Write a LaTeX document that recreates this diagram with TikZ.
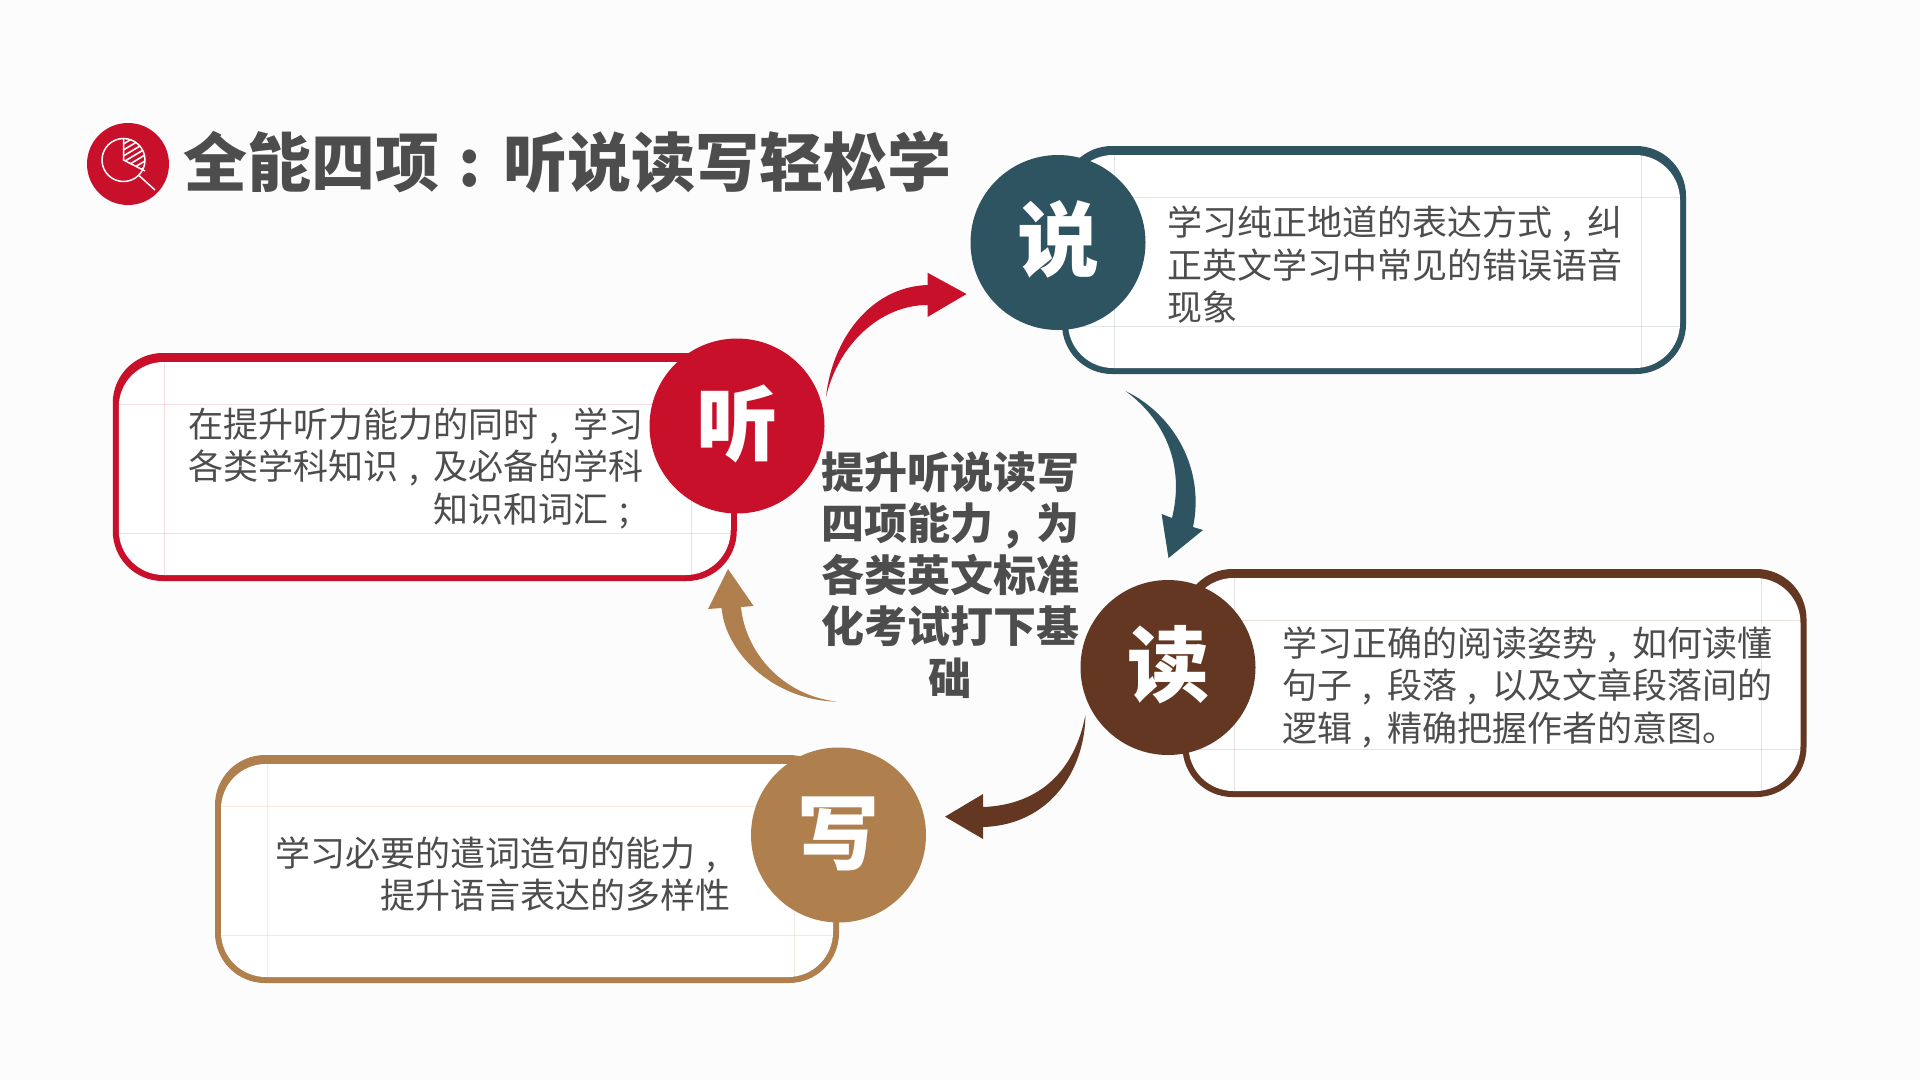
\documentclass[tikz,border=0pt]{standalone}
\usepackage{fontspec}
\setmainfont{Noto Sans CJK SC}
\usetikzlibrary{calc}
\definecolor{pagecol}{HTML}{FCFCFC}
\definecolor{inkcol}{HTML}{4D4D4D}
\definecolor{redcol}{HTML}{C8102B}
\definecolor{tealcol}{HTML}{2F5461}
\definecolor{browncol}{HTML}{633722}
\definecolor{tancol}{HTML}{AF7F4D}
% full width marks sit in the middle of their cell
\newcommand{\midp}[1]{\makebox[1em][l]{\hspace{.3em}#1}}
\tikzset{
	outerbox/.style={rectangle, rounded corners=50pt, minimum width=624pt, minimum height=228pt, inner sep=0pt, outer sep=0pt},
	innerbox/.style={rectangle, rounded corners=45pt, fill=white, minimum width=612pt, minimum height=213pt, inner sep=0pt, outer sep=0pt},
	seam/.style={line width=0.8pt, draw opacity=0.14},
	badge/.style={circle, minimum size=175pt, inner sep=0pt, outer sep=0pt, text=white, text height=69.5pt, text depth=13pt, font=\fontsize{82}{82}\selectfont\bfseries},
	bodytext/.style={inner sep=0pt, text=inkcol, font=\fontsize{35}{42.5}\selectfont},
}
\begin{document}
\begin{tikzpicture}[x=1pt, y=-1pt]
	\useasboundingbox (0,0) rectangle (1920,1080);
	\fill[pagecol] (0,0) rectangle (1920,1080);

	% title and icon
	\node[circle, fill=redcol, minimum size=82pt, inner sep=0pt] (iconbadge) at (128,164) {};
	\node[circle, draw=white, line width=1.5pt, minimum size=43pt, inner sep=0pt] (lens) at (123.5,160) {};
	\coordinate (handleend) at (155,190);
	\draw[white, line width=1.5pt] (lens.-45) -- (handleend);
	\begin{scope}
		\clip (lens.center) circle [radius=21.5];
		\clip (lens.center) -- (123.5,130) -- (160,130) -- (159.5,178) -- cycle;
		\foreach \k in {0,...,9}
			\draw[white, line width=1.6pt] (120,{146+6*\k}) -- (160,{122+6*\k});
	\end{scope}
	\draw[white, line width=1.5pt] (lens.north) -- (lens.center) -- ($(lens.center)!1!(145,171)$);
	\node[anchor=west, inner sep=0pt, text=inkcol, font=\fontsize{64}{64}\selectfont\bfseries] (title) at (183,162) {全能四项\midp{:}听说读写轻松学};

	% boxes
	\node[outerbox, fill=redcol]   (tingbox) at (424.75,467) {};
	\node[outerbox, fill=tealcol]  (shuobox) at (1374,260) {};
	\node[outerbox, fill=browncol] (dubox)   at (1494.5,683) {};
	\node[outerbox, fill=tancol]   (xiebox)  at (527,869) {};

	\foreach \name/\col in {ting/redcol, shuo/tealcol, du/browncol, xie/tancol} {
		\node[innerbox] (\name inner) at ([yshift=-1.5pt]\name box.center) {};
		\draw[seam, \col] ([xshift=46pt]\name inner.north west) -- ([xshift=46pt]\name inner.south west);
		\draw[seam, \col] ([xshift=-39pt]\name inner.north east) -- ([xshift=-39pt]\name inner.south east);
		\draw[seam, \col] ([yshift=-42pt]\name inner.north west) -- ([yshift=-42pt]\name inner.north east);
		\draw[seam, \col] ([yshift=42pt]\name inner.south west) -- ([yshift=42pt]\name inner.south east);
	}

	% badges
	\node[badge, fill=redcol]   (ting) at (737,426) {听};
	\node[badge, fill=tealcol]  (shuo) at (1058,242.5) {说};
	\node[badge, fill=browncol] (du)   at (1168,667.5) {读};
	\node[badge, fill=tancol]   (xie)  at (838.5,835) {写};

	% arrows
	\coordinate (redtail) at (826,397);
	\coordinate (redtip) at (966.5,294);
	\fill[redcol] (redtail) .. controls (832,340) and (870,287) .. (927.5,285)
		-- (927.5,272.7) -- (redtip) -- (927.5,317) -- (927.5,305)
		.. controls (880,305) and (838,345) .. (redtail) -- cycle;
	\coordinate (tealtail) at (1125.5,391);
	\coordinate (tealtip) at (1168.5,558);
	\fill[tealcol] (tealtail) .. controls (1175,415) and (1205,470) .. (1193,527)
		-- (1203,530) -- (tealtip) -- (1161.6,514) -- (1172,518)
		.. controls (1185,465) and (1165,420) .. (tealtail) -- cycle;
	\coordinate (browntail) at (1085.4,715);
	\coordinate (browntip) at (945,816.7);
	\fill[browncol] (browntail) .. controls (1085,770) and (1050,825) .. (983,827)
		-- (983,839) -- (browntip) -- (983,794) -- (983,807)
		.. controls (1040,805) and (1075,770) .. (browntail) -- cycle;
	\coordinate (tantail) at (837.4,701.7);
	\coordinate (tantip) at (728,569);
	\fill[tancol] (tantail) .. controls (770,700) and (725,650) .. (721.6,608)
		-- (708,609) -- (tantip) -- (753.6,606) -- (741,607)
		.. controls (745,650) and (780,695) .. (tantail) -- cycle;

	% texts
	\node[bodytext, anchor=east, align=right] (tingtext) at (644,468)
		{在提升听力能力的同时\midp{,}学习\\各类学科知识\midp{,}及必备的学科\\知识和词汇\midp{;}};
	\node[bodytext, anchor=west, align=left] (shuotext) at (1167,265)
		{学习纯正地道的表达方式\midp{,}纠\\正英文学习中常见的错误语音\\现象};
	\node[bodytext, anchor=west, align=left] (dutext) at (1282,687)
		{学习正确的阅读姿势\midp{,}如何读懂\\句子\midp{,}段落\midp{,}以及文章段落间的\\逻辑\midp{,}精确把握作者的意图。};
	\node[bodytext, anchor=east, align=right] (xietext) at (731,874)
		{学习必要的遣词造句的能力\midp{,}\\提升语言表达的多样性};
	\node[inner sep=0pt, align=center, text=inkcol, font=\fontsize{43}{51.5}\selectfont\bfseries] (maintext) at (950,575)
		{提升听说读写\\四项能力\midp{,}为\\各类英文标准\\化考试打下基\\础};
\end{tikzpicture}
\end{document}
